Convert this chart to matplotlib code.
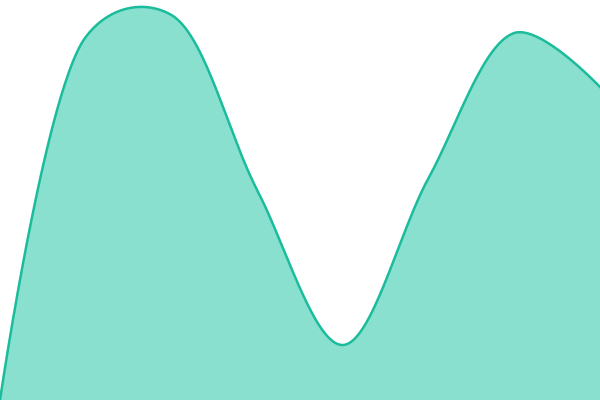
import numpy as np
import matplotlib
matplotlib.use("Agg")
import matplotlib.pyplot as plt

# Werte der Punkte (gleichmaessig verteilt)
values = [0, 363, 385, 210, 55, 222, 367, 313]
y_max = 400

line_color = "#1ABC9C"
fill_color = "#8AE0CF"

W, H = 600, 400


# Catmull-Rom wie in d3, gerechnet in Pixeln
def catmull_rom(px, py, alpha=0.5, steps=60):
    pts = list(zip(px, py))
    n = len(pts)
    out_x, out_y = [], []

    def dist_a(a, b):
        d2 = (a[0] - b[0])**2 + (a[1] - b[1])**2
        return d2**(alpha / 2)

    for i in range(n - 1):
        p1, p2 = np.array(pts[i]), np.array(pts[i + 1])
        l12 = dist_a(p1, p2)
        c1 = p1.copy()
        c2 = p2.copy()
        if i > 0:
            p0 = np.array(pts[i - 1])
            l01 = dist_a(p0, p1)
            a = 2 * l01**2 + 3 * l01 * l12 + l12**2
            m = 3 * l01 * (l01 + l12)
            c1 = (p1 * a - p0 * l12**2 + p2 * l01**2) / m
        if i < n - 2:
            p3 = np.array(pts[i + 2])
            l23 = dist_a(p2, p3)
            b = 2 * l23**2 + 3 * l23 * l12 + l12**2
            m = 3 * l23 * (l23 + l12)
            c2 = (p2 * b + p1 * l23**2 - p3 * l12**2) / m
        t = np.linspace(0, 1, steps)[:, None]
        bez = (1-t)**3*p1 + 3*(1-t)**2*t*c1 + 3*(1-t)*t**2*c2 + t**3*p2
        out_x.extend(bez[:, 0])
        out_y.extend(bez[:, 1])
    return np.array(out_x), np.array(out_y)


x = np.arange(len(values))
# in Pixel umrechnen, Kurve bilden, zurueckrechnen
xs_px = x * W / (len(values) - 1)
ys_px = np.array(values) * H / y_max
cx, cy = catmull_rom(xs_px, ys_px, alpha=0.35)
sx = cx * (len(values) - 1) / W
sy = cy * y_max / H

fig = plt.figure(figsize=(6, 4), dpi=100)
ax = fig.add_axes([0, 0, 1, 1])
ax.fill_between(sx, sy, 0, color=fill_color, linewidth=0)
ax.plot(sx, sy, color=line_color, linewidth=1.8)
ax.set_xlim(x[0], x[-1])
ax.set_ylim(0, y_max)
ax.axis("off")

fig.savefig("out.png", dpi=100)
